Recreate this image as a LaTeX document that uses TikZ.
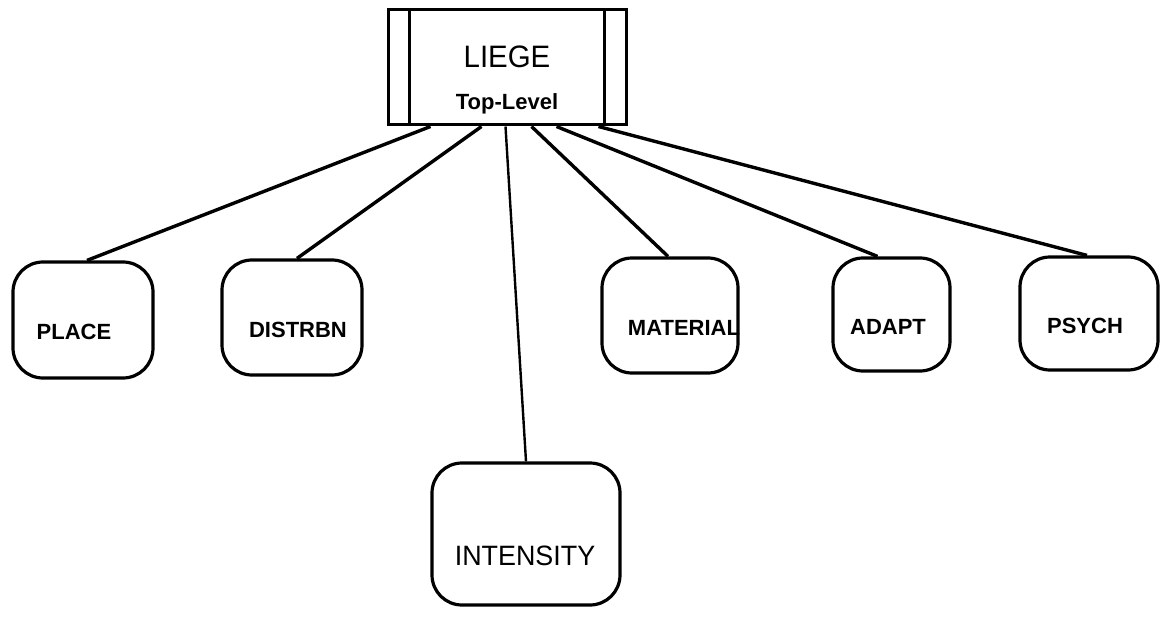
\documentclass[tikz,border=0pt]{standalone}
\usepackage{fontspec}
\setmainfont{Liberation Sans}
\usetikzlibrary{calc}
\begin{document}
\begin{tikzpicture}[x=1pt,y=-1pt,
  topbox/.style={draw,line width=3pt,inner sep=0pt},
  box/.style={draw,line width=3.2pt,rounded corners=30pt,inner sep=0pt},
  lab/.style={font=\bfseries\fontsize{22}{24}\selectfont,inner sep=0pt},
  conn/.style={line width=3.4pt},
  thinconn/.style={line width=2.4pt}]
\useasboundingbox (0,0) rectangle (1165,623);
% top-level box
\node[topbox,minimum width=238pt,minimum height=115pt] (liege) at (507,67.5) {};
\draw[line width=2.4pt] ($(liege.north west)+(23,0)$) -- ($(liege.south west)+(23,0)$);
\draw[line width=2.4pt] ($(liege.north east)+(-23,0)$) -- ($(liege.south east)+(-23,0)$);
\node[inner sep=0pt,font=\fontsize{31}{33}\selectfont,xscale=0.95] (liegeT) at (507,57) {LIEGE};
\node[lab] (liegeS) at (507,104) {Top-Level};
% children
\node[box,minimum width=140pt,minimum height=116pt] (place) at (83,320) {};
\node[lab] (placeT) at (74,332) {PLACE};
\node[box,minimum width=140pt,minimum height=115pt] (distrbn) at (292,317.5) {};
\node[lab] (distrbnT) at (298,330) {DISTRBN};
\node[box,minimum width=136pt,minimum height=115pt] (material) at (670,315.5) {};
\node[lab] (materialT) at (684,328) {MATERIAL};
\node[box,minimum width=117pt,minimum height=113pt] (adapt) at (891.5,314.5) {};
\node[lab] (adaptT) at (888,327) {ADAPT};
\node[box,minimum width=138pt,minimum height=113pt] (psych) at (1089,313.5) {};
\node[lab] (psychT) at (1085,326) {PSYCH};
\node[box,minimum width=188pt,minimum height=142pt] (intensity) at (526,534) {};
\node[inner sep=0pt,font=\fontsize{28}{30}\selectfont,xscale=0.96] (intensityT) at (525,556) {INTENSITY};
% connectors
\draw[conn] ($(liege.south west)+(44,0)$) -- ($(place.north)+(4,0)$);
\draw[conn] ($(liege.south west)+(95,0)$) -- ($(distrbn.north)+(5,0)$);
\draw[thinconn] ($(liege.south west)+(119,0)$) -- (intensity.north);
\draw[conn] ($(liege.south west)+(145,0)$) -- ($(material.north)+(-2,0)$);
\draw[conn] ($(liege.south west)+(170,0)$) -- ($(adapt.north)+(-14,0)$);
\draw[conn] ($(liege.south west)+(212,0)$) -- ($(psych.north)+(-2,0)$);
\end{tikzpicture}
\end{document}
